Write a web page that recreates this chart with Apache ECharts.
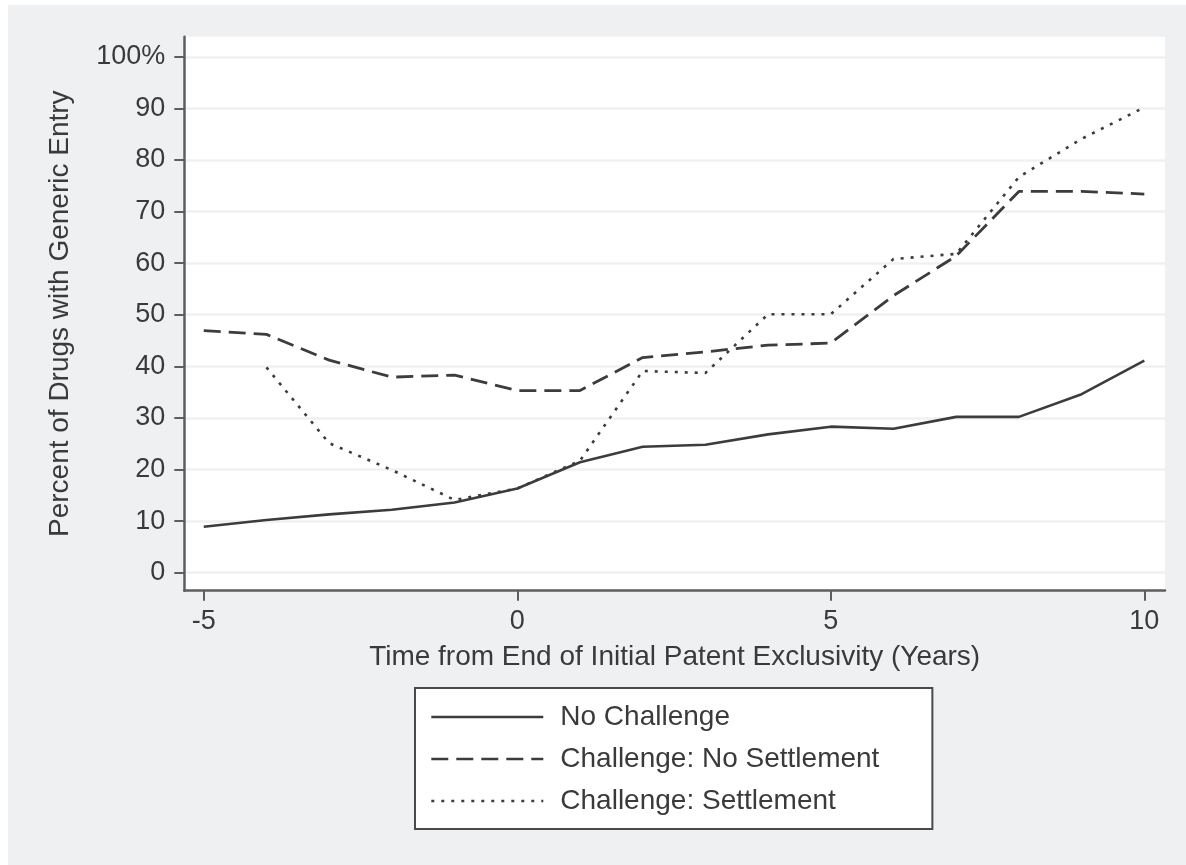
<!DOCTYPE html>
<html>
<head>
<meta charset="utf-8">
<script src="https://cdn.jsdelivr.net/npm/echarts@6/dist/echarts.min.js"></script>
<style>
html,body{margin:0;padding:0;background:#ffffff;}
#chart{position:absolute;left:8px;top:5px;width:1178px;height:860px;}
</style>
</head>
<body>
<div id="chart"></div>
<script>
const years = [-5,-4,-3,-2,-1,0,1,2,3,4,5,6,7,8,9,10];
const noChallenge = [8.9,10.2,11.3,12.2,13.6,16.3,21.4,24.4,24.8,26.8,28.3,27.9,30.2,30.2,34.6,41.1];
const challengeNoSettlement = [46.9,46.2,41.2,37.9,38.3,35.3,35.3,41.7,42.8,44.1,44.5,53.7,61.4,73.9,73.9,73.4];
const challengeSettlement = [null,39.8,25.1,19.9,14.1,16.3,21.7,39.1,38.7,50.1,50.1,60.8,61.8,76.7,84.1,90.2];
const seriesNames = ['No Challenge','Challenge: No Settlement','Challenge: Settlement'];
const xTicks = [-5,0,5,10];
const yTicks = [0,10,20,30,40,50,60,70,80,90,100];

const FONT = "'Liberation Sans', Arial, Helvetica, sans-serif";
const TXT = '#3a3a3a';
const LINE = '#3c3c3c';

function pairs(vals){ return years.map((x,i)=>[x, vals[i]]).filter(p=>p[1]!==null); }

const chart = echarts.init(document.getElementById('chart'));
chart.setOption({
  backgroundColor:'#eff0f2',
  animation:false,
  textStyle:{fontFamily:FONT},
  grid:{left:176.3, right:21, top:31.7, bottom:274.3, show:true, backgroundColor:'#ffffff', borderWidth:0},
  xAxis:{
    type:'value', min:-5.31, max:10.33,
    name:'Time from End of Initial Patent Exclusivity (Years)',
    nameLocation:'middle', nameGap:53,
    nameTextStyle:{fontFamily:FONT, fontSize:28, color:TXT},
    axisLine:{show:true, onZero:false, lineStyle:{color:'#5e5e5e', width:2.5}},
    axisTick:{show:true, inside:false, length:10, customValues:xTicks, lineStyle:{color:'#5e5e5e', width:2}},
    axisLabel:{customValues:xTicks, margin:17, fontFamily:FONT, fontSize:27, color:TXT},
    splitLine:{show:false}
  },
  yAxis:{
    type:'value', min:-3.5, max:103.9,
    name:'Percent of Drugs with Generic Entry',
    nameLocation:'middle', nameGap:110,
    nameTextStyle:{fontFamily:FONT, fontSize:28, color:TXT},
    axisLine:{show:true, onZero:false, lineStyle:{color:'#5e5e5e', width:2.5}},
    axisTick:{show:true, inside:false, length:10, customValues:yTicks, lineStyle:{color:'#5e5e5e', width:2}},
    axisLabel:{customValues:yTicks, margin:19, fontFamily:FONT, fontSize:27, color:TXT,
      formatter:v=> v===100 ? '100%' : String(v)},
    splitLine:{show:true, lineStyle:{color:'#eef0f3', width:2.5}}
  },
  legend:{
    data:seriesNames,
    orient:'vertical', left:407, top:683,
    padding:[15,53,14,15],
    backgroundColor:'#ffffff', borderColor:'#4a4a4a', borderWidth:2,
    itemWidth:112, itemHeight:14, itemGap:14,
    itemStyle:{color:'rgba(0,0,0,0)', borderWidth:0, opacity:0},
    lineStyle:{width:2.6},
    textStyle:{fontFamily:FONT, fontSize:28, color:TXT, lineHeight:28, padding:[0,0,0,12]}
  },
  series:[
    {name:seriesNames[0], type:'line', data:pairs(noChallenge), showSymbol:false, symbol:'none',
     lineStyle:{color:LINE, width:2.6, type:'solid'}, itemStyle:{color:LINE}},
    {name:seriesNames[1], type:'line', data:pairs(challengeNoSettlement), showSymbol:false, symbol:'none',
     lineStyle:{color:LINE, width:2.8, type:[17,8]}, itemStyle:{color:LINE}},
    {name:seriesNames[2], type:'line', data:pairs(challengeSettlement), showSymbol:false, symbol:'none',
     lineStyle:{color:LINE, width:2.6, type:[3,7]}, itemStyle:{color:LINE}}
  ]
});
</script>
</body>
</html>
